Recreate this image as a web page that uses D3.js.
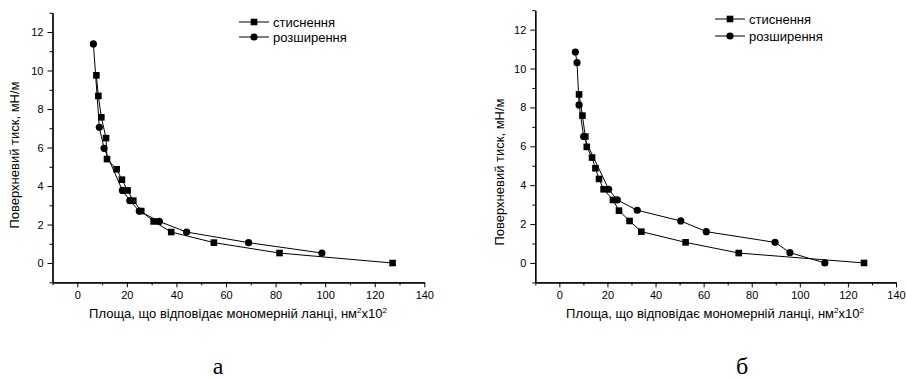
<!DOCTYPE html>
<html><head><meta charset="utf-8">
<script src="https://cdn.jsdelivr.net/npm/d3@7"></script>
<style>
html,body{margin:0;padding:0;background:#fff;}
svg{display:block;}
text{font-family:"Liberation Sans",Arial,sans-serif;fill:#000;}
</style></head>
<body>
<svg id="c" width="906" height="379"></svg>
<script>
// Panel "а"
const aCompArea  = [7.7, 8.5, 9.7, 11.6, 12.0, 15.9, 18.0, 20.3, 22.6, 25.8, 30.8, 37.9, 55.1, 81.6, 127.2];
const aCompPress = [9.75, 8.68, 7.57, 6.49, 5.40, 4.87, 4.33, 3.77, 3.24, 2.70, 2.16, 1.61, 1.06, 0.52, 0.0];
const aExpArea   = [6.5, 8.9, 10.8, 18.2, 21.2, 25.0, 33.1, 44.1, 69.1, 98.7];
const aExpPress  = [11.38, 7.05, 5.96, 3.77, 3.24, 2.70, 2.16, 1.61, 1.06, 0.52];
// Panel "б"
const bCompArea  = [8.2, 9.6, 10.8, 11.4, 13.6, 15.0, 16.5, 18.4, 22.3, 24.8, 29.2, 34.1, 52.5, 74.6, 126.7];
const bCompPress = [8.67, 7.58, 6.50, 5.97, 5.42, 4.87, 4.32, 3.79, 3.24, 2.69, 2.16, 1.61, 1.06, 0.51, 0.0];
const bExpArea   = [6.65, 7.35, 8.2, 10.1, 20.5, 24.1, 32.4, 50.5, 61.1, 89.7, 95.9, 110.4];
const bExpPress  = [10.85, 10.30, 8.13, 6.50, 3.79, 3.24, 2.71, 2.16, 1.61, 1.06, 0.53, 0.0];

const xTicksMajor = [0, 20, 40, 60, 80, 100, 120, 140];
const yTicksMajor = [0, 2, 4, 6, 8, 10, 12];
const seriesNames = ["стиснення", "розширення"];
const yTitle = "Поверхневий тиск, мН/м";
const panelLetters = ["а", "б"];

const svg = d3.select("#c");

function panel(cfg) {
  const g = svg.append("g");
  const x = d3.scaleLinear().domain([-10, 140]).range(cfg.xr);
  const y = d3.scaleLinear().domain([-1, 13]).range(cfg.yr);

  // axes
  const xMinor = d3.range(-10, 141, 10).filter(v => xTicksMajor.indexOf(v) < 0);
  const yMinor = d3.range(-1, 14, 1).filter(v => yTicksMajor.indexOf(v) < 0);

  const xAx = g.append("g").attr("transform", `translate(0,${cfg.yr[0]})`);
  xAx.call(d3.axisBottom(x).tickValues(xTicksMajor).tickSize(5).tickSizeOuter(0).tickPadding(4).tickFormat(d3.format("d")));
  xAx.append("g").call(d3.axisBottom(x).tickValues(xMinor).tickSize(3).tickSizeOuter(0).tickFormat(""));
  const yAx = g.append("g").attr("transform", `translate(${cfg.xr[0]},0)`);
  yAx.call(d3.axisLeft(y).tickValues(yTicksMajor).tickSize(5).tickSizeOuter(0).tickPadding(4).tickFormat(d3.format("d")));
  yAx.append("g").call(d3.axisLeft(y).tickValues(yMinor).tickSize(3).tickSizeOuter(0).tickFormat(""));
  g.selectAll(".domain").attr("stroke", "#000").attr("stroke-width", 1.2);
  g.selectAll(".tick line").attr("stroke", "#000");
  g.selectAll(".tick text").attr("font-size", 11).attr("font-family", "Liberation Sans, Arial, sans-serif");

  // series
  const line = d3.line().x(d => x(d[0])).y(d => y(d[1]));
  const comp = cfg.compA.map((v, i) => [v, cfg.compP[i]]);
  const exp = cfg.expA.map((v, i) => [v, cfg.expP[i]]);
  [comp, exp].forEach(s => g.append("path").datum(s).attr("d", line).attr("fill", "none").attr("stroke", "#000").attr("stroke-width", 1));
  g.selectAll(null).data(exp).enter().append("circle")
    .attr("cx", d => x(d[0])).attr("cy", d => y(d[1])).attr("r", 3.6).attr("fill", "#000");
  g.selectAll(null).data(comp).enter().append("rect")
    .attr("x", d => x(d[0]) - 3.3).attr("y", d => y(d[1]) - 3.3).attr("width", 6.6).attr("height", 6.6).attr("fill", "#000");

  // legend
  cfg.legY.forEach((ly, i) => {
    g.append("line").attr("x1", cfg.legX).attr("x2", cfg.legX + 30).attr("y1", ly).attr("y2", ly).attr("stroke", "#000");
    if (i === 0) g.append("rect").attr("x", cfg.legX + 15 - 3.3).attr("y", ly - 3.3).attr("width", 6.6).attr("height", 6.6);
    else g.append("circle").attr("cx", cfg.legX + 15).attr("cy", ly).attr("r", 3.6);
    g.append("text").attr("x", cfg.legX + 34).attr("y", ly + 4.5).attr("font-size", 13).text(seriesNames[i]);
  });

  // y title
  g.append("text").attr("transform", `translate(${cfg.ytX},${cfg.ytY}) rotate(-90)`)
    .attr("text-anchor", "middle").attr("font-size", 13).text(yTitle);
  // x title
  const xt = g.append("text").attr("x", cfg.xtX).attr("y", 318).attr("text-anchor", "middle").attr("font-size", 13);
  xt.append("tspan").text("Площа, що відповідає мономерній ланці, нм");
  xt.append("tspan").attr("dy", -5).attr("font-size", 8).text("2");
  xt.append("tspan").attr("dy", 5).text("х10");
  xt.append("tspan").attr("dy", -5).attr("font-size", 8).text("2");
  // letter
  svg.append("text").attr("x", cfg.letX).attr("y", 374).attr("text-anchor", "middle")
    .attr("font-family", "Liberation Serif, Times New Roman, serif").style("font-family", "Liberation Serif, serif")
    .attr("font-size", 24).text(cfg.letter);
}

panel({xr: [52.5, 424.3], yr: [282.3, 12.75], compA: aCompArea, compP: aCompPress, expA: aExpArea, expP: aExpPress,
  legX: 239, legY: [22, 37], ytX: 19, ytY: 155, xtX: 238, letX: 218, letter: panelLetters[0]});
panel({xr: [535.3, 896], yr: [282.4, 10.2], compA: bCompArea, compP: bCompPress, expA: bExpArea, expP: bExpPress,
  legX: 715, legY: [19, 36], ytX: 504, ytY: 172, xtX: 715, letX: 742, letter: panelLetters[1]});
</script>
</body></html>
